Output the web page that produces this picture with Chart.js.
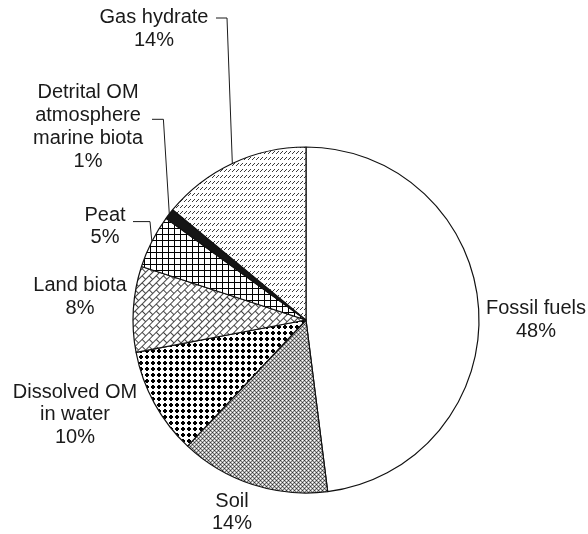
<!DOCTYPE html>
<html>
<head>
<meta charset="utf-8">
<script src="https://cdn.jsdelivr.net/npm/chart.js@4"></script>
<style>
  html, body { margin: 0; padding: 0; background: #fff; }
  canvas { display: block; }
</style>
</head>
<body>
<canvas id="pie" width="588" height="534"></canvas>
<script>
// slices, clockwise from 12 o'clock
var categories = ['Fossil fuels', 'Soil', 'Dissolved OM\nin water', 'Land biota', 'Peat',
                  'Detrital OM\natmosphere\nmarine biota', 'Gas hydrate'];
var shares = [48, 14, 10, 8, 5, 1, 14];

// fill patterns (black and white print style)
function tile(w, h, draw) {
    var c = document.createElement('canvas');
    c.width = w;
    c.height = h;
    var g = c.getContext('2d');
    draw(g);
    return c;
}

var ctx = document.getElementById('pie').getContext('2d');

var soilTile = tile(4, 4, function (g) {
    var px = [
        ['#333', '#bbb', '#fff', '#bbb'],
        ['#bbb', '#777', '#bbb', '#777'],
        ['#fff', '#bbb', '#333', '#bbb'],
        ['#bbb', '#777', '#bbb', '#777']
    ];
    for (var y = 0; y < 4; y++) {
        for (var x = 0; x < 4; x++) {
            g.fillStyle = px[y][x];
            g.fillRect(x, y, 1, 1);
        }
    }
});

var dotsTile = tile(6, 6, function (g) {
    g.fillStyle = '#fff';
    g.fillRect(0, 0, 6, 6);
    g.fillStyle = '#000';
    g.fillRect(1, 2, 4, 2);
    g.fillRect(2, 1, 2, 4);
});

var brickTile = tile(10, 10, function (g) {
    g.fillStyle = '#fff';
    g.fillRect(0, 0, 10, 10);
    g.strokeStyle = '#444';
    g.lineWidth = 1;
    g.beginPath();
    g.moveTo(0, 0.5); g.lineTo(10, 0.5);
    g.moveTo(0, 5.5); g.lineTo(10, 5.5);
    g.moveTo(0.5, 0); g.lineTo(0.5, 5);
    g.moveTo(5.5, 5); g.lineTo(5.5, 10);
    g.stroke();
});

var gridTile = tile(6, 6, function (g) {
    g.fillStyle = '#fff';
    g.fillRect(0, 0, 6, 6);
    g.fillStyle = '#000';
    g.fillRect(0, 0, 6, 1);
    g.fillRect(0, 0, 1, 6);
});

var dashTile = tile(4, 6, function (g) {
    g.fillStyle = '#fff';
    g.fillRect(0, 0, 4, 6);
    g.fillStyle = '#3a3a3a';
    g.fillRect(0, 3, 1, 1);
    g.fillRect(1, 2, 1, 1);
    g.fillRect(2, 1, 1, 1);
});

var brick = ctx.createPattern(brickTile, 'repeat');
brick.setTransform(new DOMMatrix().rotate(-45));

var fills = [
    '#ffffff',
    ctx.createPattern(soilTile, 'repeat'),
    ctx.createPattern(dotsTile, 'repeat'),
    brick,
    ctx.createPattern(gridTile, 'repeat'),
    '#151515',
    ctx.createPattern(dashTile, 'repeat')
];

// where each label block sits (x centre, y of first line) and optional leader elbow
var labelSpots = [
    { x: 536, y: 308.6 },
    { x: 232, y: 501 },
    { x: 75, y: 392 },
    { x: 80, y: 285.7 },
    { x: 105, y: 215, leader: [[133, 221.6], [150, 221.6]] },
    { x: 88, y: 92.7, leader: [[152, 119.3], [163.4, 119.3]] },
    { x: 154, y: 17.7, leader: [[216, 18], [227, 18]] }
];

var sliceLabels = {
    id: 'sliceLabels',
    afterDraw: function (chart) {
        var c = chart.ctx;
        var arcs = chart.getDatasetMeta(0).data;
        c.save();
        c.fillStyle = '#1a1a1a';
        c.strokeStyle = '#1a1a1a';
        c.lineWidth = 1;
        c.font = '20px "Liberation Sans", Arial, sans-serif';
        c.textAlign = 'center';
        c.textBaseline = 'middle';
        arcs.forEach(function (arc, i) {
            var spot = labelSpots[i];
            var lines = categories[i].split('\n').concat([shares[i] + '%']);
            lines.forEach(function (t, k) {
                c.fillText(t, spot.x, spot.y + k * 22.8);
            });
            if (spot.leader) {
                var p = arc.getProps(['x', 'y', 'startAngle', 'endAngle', 'outerRadius'], true);
                var mid = (p.startAngle + p.endAngle) / 2;
                var ex = p.x + Math.cos(mid) * p.outerRadius;
                var ey = p.y + Math.sin(mid) * p.outerRadius;
                c.beginPath();
                c.moveTo(spot.leader[0][0], spot.leader[0][1]);
                c.lineTo(spot.leader[1][0], spot.leader[1][1]);
                c.lineTo(ex, ey);
                c.stroke();
            }
        });
        c.restore();
    }
};

new Chart(ctx, {
    type: 'pie',
    data: {
        labels: categories,
        datasets: [{
            data: shares,
            backgroundColor: fills,
            borderColor: '#111',
            borderWidth: 1.2,
            hoverOffset: 0
        }]
    },
    options: {
        responsive: false,
        animation: false,
        radius: 173,
        layout: { padding: { left: 24, right: 0, top: 106, bottom: 0 } },
        plugins: {
            legend: { display: false },
            tooltip: { enabled: false }
        },
        events: []
    },
    plugins: [sliceLabels]
});
</script>
</body>
</html>
